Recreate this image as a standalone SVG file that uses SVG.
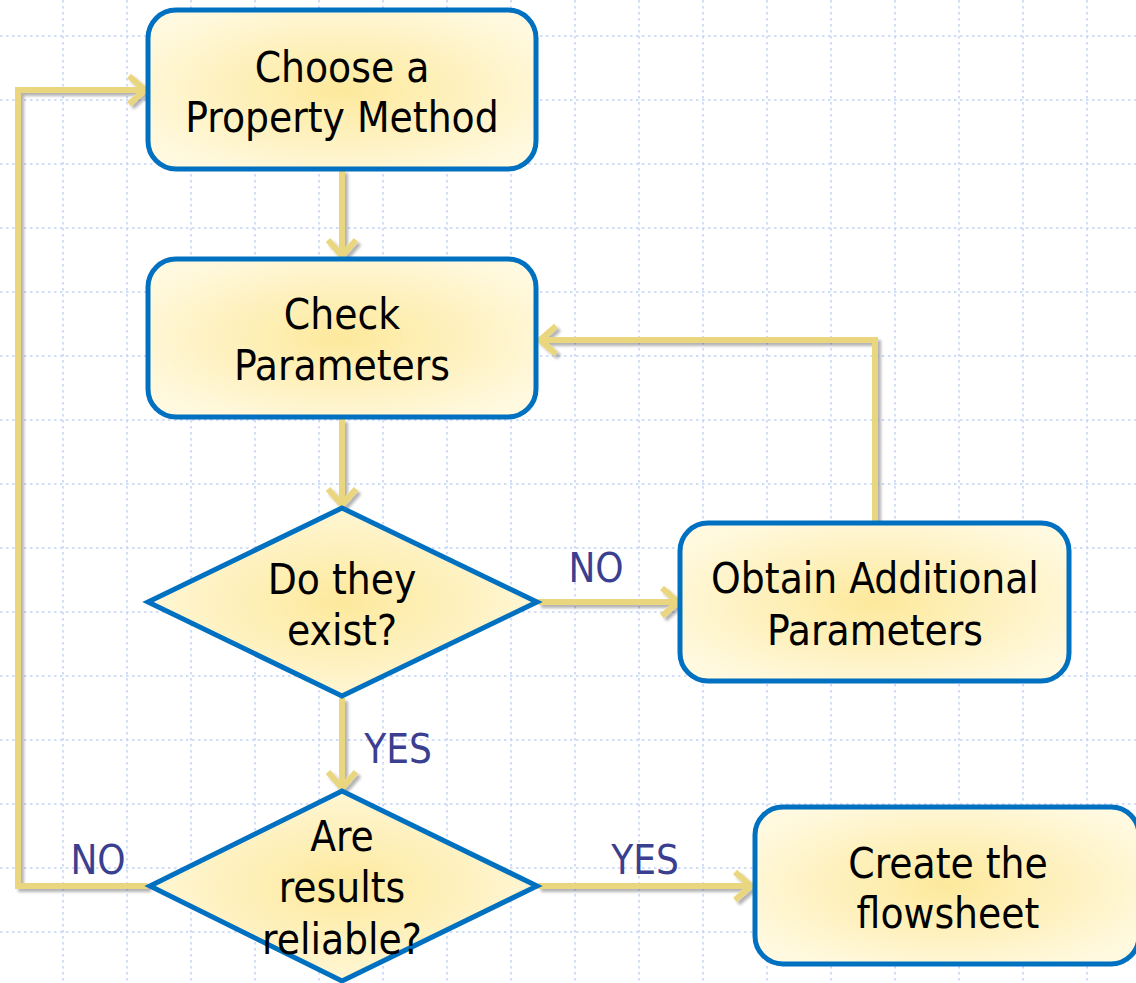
<svg xmlns="http://www.w3.org/2000/svg" width="1136" height="983" viewBox="0 0 1136 983">
<style>
.grid line{stroke:#c4d2f6;stroke-width:1.5;stroke-dasharray:2.5 3.5}
.box{stroke:#0070c0;stroke-width:5;fill:url(#g)}
.t{font-family:"DejaVu Sans Condensed","DejaVu Sans","Liberation Sans",sans-serif;font-stretch:condensed;font-size:42px;fill:#000;text-anchor:middle}
.lbl{font-family:"DejaVu Sans Condensed","DejaVu Sans","Liberation Sans",sans-serif;font-stretch:condensed;font-size:40px;fill:#3b3f8f;text-anchor:middle}
.c path{fill:none;stroke:#ead67e;stroke-width:6;stroke-linejoin:miter}
</style>
<defs>
<radialGradient id="g" cx="0.5" cy="0.5" r="0.6">
<stop offset="0" stop-color="#fde99c"/>
<stop offset="1" stop-color="#fff9e0"/>
</radialGradient>
<filter id="sh" x="-10%" y="-10%" width="120%" height="120%">
<feGaussianBlur in="SourceAlpha" stdDeviation="1.5"/>
<feOffset dx="3" dy="3" result="b"/>
<feComponentTransfer><feFuncA type="linear" slope="0.3"/></feComponentTransfer>
<feMerge><feMergeNode/><feMergeNode in="SourceGraphic"/></feMerge>
</filter>
</defs>
<rect width="1136" height="983" fill="#fff"/>
<g class="grid">
<line x1="63" y1="0" x2="63" y2="983"/><line x1="127" y1="0" x2="127" y2="983"/><line x1="191" y1="0" x2="191" y2="983"/><line x1="255" y1="0" x2="255" y2="983"/><line x1="319" y1="0" x2="319" y2="983"/><line x1="383" y1="0" x2="383" y2="983"/><line x1="447" y1="0" x2="447" y2="983"/><line x1="511" y1="0" x2="511" y2="983"/><line x1="575" y1="0" x2="575" y2="983"/><line x1="639" y1="0" x2="639" y2="983"/><line x1="703" y1="0" x2="703" y2="983"/><line x1="767" y1="0" x2="767" y2="983"/><line x1="831" y1="0" x2="831" y2="983"/><line x1="895" y1="0" x2="895" y2="983"/><line x1="959" y1="0" x2="959" y2="983"/><line x1="1023" y1="0" x2="1023" y2="983"/><line x1="1087" y1="0" x2="1087" y2="983"/>
<line x1="0" y1="36" x2="1136" y2="36"/><line x1="0" y1="100" x2="1136" y2="100"/><line x1="0" y1="164" x2="1136" y2="164"/><line x1="0" y1="228" x2="1136" y2="228"/><line x1="0" y1="292" x2="1136" y2="292"/><line x1="0" y1="356" x2="1136" y2="356"/><line x1="0" y1="420" x2="1136" y2="420"/><line x1="0" y1="484" x2="1136" y2="484"/><line x1="0" y1="548" x2="1136" y2="548"/><line x1="0" y1="612" x2="1136" y2="612"/><line x1="0" y1="676" x2="1136" y2="676"/><line x1="0" y1="740" x2="1136" y2="740"/><line x1="0" y1="804" x2="1136" y2="804"/><line x1="0" y1="868" x2="1136" y2="868"/><line x1="0" y1="932" x2="1136" y2="932"/>
</g>
<g id="connectors" class="c" filter="url(#sh)">
<path d="M342 170 V255"/><path d="M328 240 L342 256 L356 240"/>
<path d="M342 419 V504"/><path d="M328 489 L342 505 L356 489"/>
<path d="M538 602 H677"/><path d="M662 588 L678 602 L662 616"/>
<path d="M875 521 V340 H541"/><path d="M556 326 L540 340 L556 354"/>
<path d="M342 698 V787"/><path d="M328 772 L342 788 L356 772"/>
<path d="M148 886 H18 V90 H144"/><path d="M129 76 L145 90 L129 104"/>
<path d="M538 886 H750"/><path d="M735 872 L751 886 L735 900"/>
</g>
<g id="labels">
<text class="lbl" x="596" y="582">NO</text>
<text class="lbl" x="398" y="763">YES</text>
<text class="lbl" x="98" y="874">NO</text>
<text class="lbl" x="645" y="874">YES</text>
</g>
<g id="n1"><rect class="box" x="148" y="10" width="388" height="159" rx="28"/><text class="t" x="342" y="82">Choose a</text><text class="t" x="342" y="132">Property Method</text></g>
<g id="n2"><rect class="box" x="148" y="259" width="388" height="158" rx="28"/><text class="t" x="342" y="329">Check</text><text class="t" x="342" y="380">Parameters</text></g>
<g id="n3"><polygon class="box" points="148,602 342,508 537,602 342,696"/><text class="t" x="342" y="594">Do they</text><text class="t" x="342" y="645">exist?</text></g>
<g id="n4"><rect class="box" x="680" y="523" width="389" height="158" rx="28"/><text class="t" x="875" y="593">Obtain Additional</text><text class="t" x="875" y="645">Parameters</text></g>
<g id="n5"><polygon class="box" points="150,886 342,791 537,886 342,981"/><text class="t" x="342" y="851">Are</text><text class="t" x="342" y="902">results</text><text class="t" x="342" y="954">reliable?</text></g>
<g id="n6"><rect class="box" x="755" y="807" width="384" height="157" rx="28"/><text class="t" x="948" y="878">Create the</text><text class="t" x="948" y="928">flowsheet</text></g>
</svg>
